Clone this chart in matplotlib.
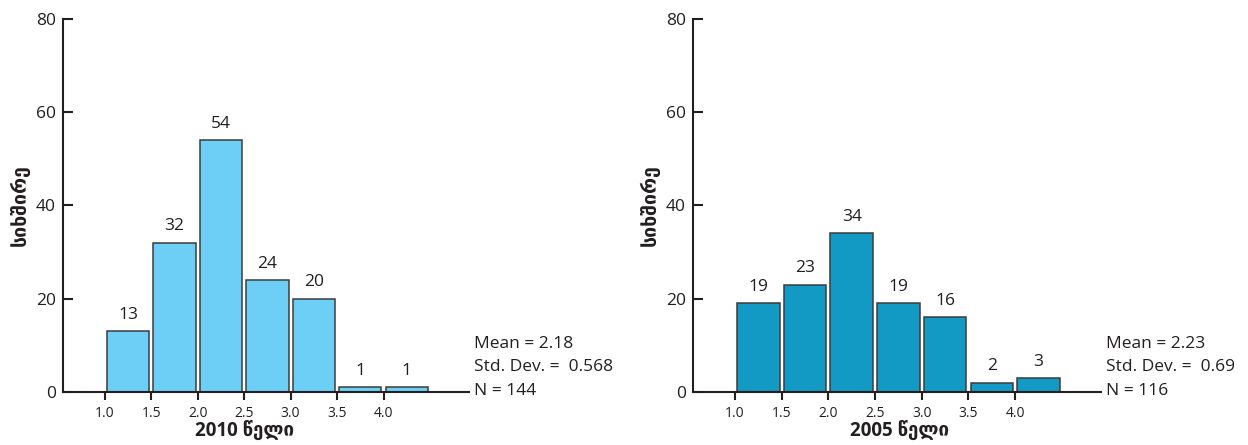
import matplotlib
matplotlib.use("Agg")
from matplotlib import pyplot as plt
import numpy as np

plt.rcParams['font.family'] = ['Open Sans', 'DejaVu Sans']

# histogram data, bins are 0.5 wide starting at these left edges
bin_edges = [1.0, 1.5, 2.0, 2.5, 3.0, 3.5, 4.0]
counts_2010 = [13, 32, 54, 24, 20, 1, 1]
counts_2005 = [19, 23, 34, 19, 16, 2, 3]
tick_labels = ["1.0", "1.5", "2.0", "2.5", "3.0", "3.5", "4.0"]
y_ticks = [0, 20, 40, 60, 80]

stats_2010 = ["Mean = 2.18", "Std. Dev. =  0.568", "N = 144"]
stats_2005 = ["Mean = 2.23", "Std. Dev. =  0.69", "N = 116"]

ylabel = "სიხშირე"
xlabel_2010 = "2010 წელი"
xlabel_2005 = "2005 წელი"

text_col = "#231f20"
W, H = 1248, 445

fig = plt.figure(figsize=(W / 100, H / 100), dpi=100)


def draw_hist(rect, counts, color, xlabel, xlabel_pos, stats):
    ax = fig.add_axes(rect)
    centers = np.array(bin_edges) + 0.25
    ax.bar(centers, counts, width=0.455, color=color, edgecolor="#3c3c3c",
           linewidth=1.1, zorder=2)
    for c, v in zip(centers, counts):
        ax.text(c, v + 1.8, str(v), ha="center", va="bottom", fontsize=12.5,
                color=text_col)

    ax.set_xlim(0.55, 4.92)
    ax.set_ylim(0, 80)
    ax.set_xticks(bin_edges)
    ax.set_xticklabels(tick_labels, fontsize=10, color=text_col)
    ax.set_yticks(y_ticks)
    ax.set_yticklabels([str(t) for t in y_ticks], fontsize=12.5, color=text_col)
    ax.tick_params(axis="y", direction="in", length=7, width=1.5, pad=5,
                   colors=text_col)
    ax.tick_params(axis="x", direction="out", length=6, width=1.5, pad=4,
                   colors=text_col)
    for s in ["top", "right"]:
        ax.spines[s].set_visible(False)
    for s in ["left", "bottom"]:
        ax.spines[s].set_linewidth(1.5)
        ax.spines[s].set_color(text_col)

    ax.set_ylabel(ylabel, fontsize=14, fontweight="bold", color=text_col,
                  labelpad=4)
    ax.text(xlabel_pos, -0.107, xlabel, transform=ax.transAxes, ha="center",
            va="center", fontsize=13.5, fontweight="bold", color=text_col)

    # summary statistics to the right of the axis
    for i, line in enumerate(stats):
        ax.text(1.012, 0.13 - i * 0.064, line, transform=ax.transAxes,
                ha="left", va="center", fontsize=12.5, color=text_col)
    return ax


draw_hist([63 / W, 1 - 392 / H, 406 / W, 373 / H], counts_2010, "#6dcff6",
          xlabel_2010, 0.448, stats_2010)
draw_hist([693 / W, 1 - 392 / H, 408 / W, 373 / H], counts_2005, "#129ac4",
          xlabel_2005, 0.507, stats_2005)

fig.savefig("out.png", dpi=100)
